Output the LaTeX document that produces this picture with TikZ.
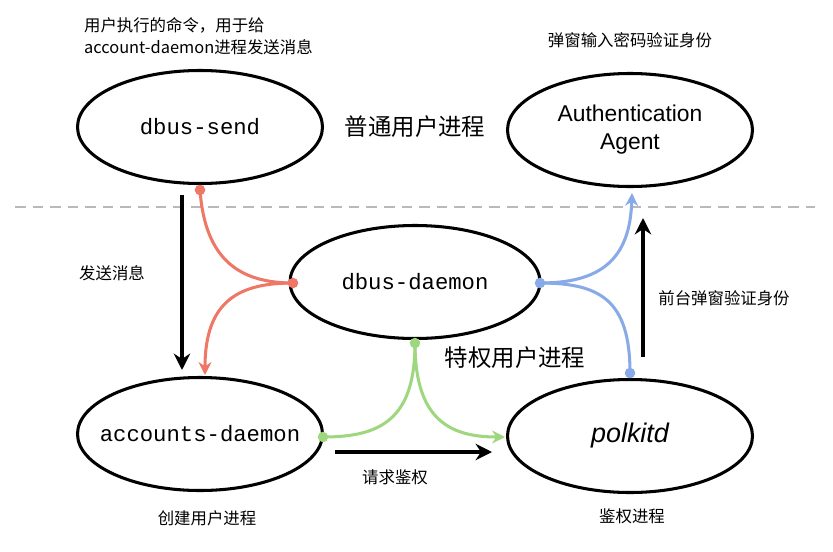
\documentclass[tikz,border=0pt]{standalone}
\usepackage{fontspec}
\newfontfamily\cjk{Noto Sans CJK SC}
\newfontfamily\monof{Liberation Mono}
\newfontfamily\sansf{Liberation Sans}
\usetikzlibrary{shapes.geometric,arrows.meta}
\definecolor{cred}{HTML}{EE7766}
\definecolor{cblue}{HTML}{88AAE6}
\definecolor{cgreen}{HTML}{9ED77E}
\begin{document}
\begin{tikzpicture}[x=0.03cm,y=-0.03cm,
  ell/.style={ellipse,draw,line width=2.6pt,minimum width=245*0.03cm,minimum height=113*0.03cm,inner sep=0pt},
  lbl/.style={font=\cjk\fontsize{14}{17}\selectfont},
  big/.style={font=\cjk\fontsize{20}{24}\selectfont},
  mono/.style={font=\monof\fontsize{19}{22}\selectfont},
  dotr/.style={circle,fill=#1,inner sep=0pt,minimum size=9pt},
  cur/.style={line width=2.6pt,draw=#1},
  blk/.style={line width=3.4pt,-{Stealth[length=14pt,width=14pt]}}]
\useasboundingbox (0,0) rectangle (833,551);
\draw[gray!55,line width=2pt,dash pattern=on 9pt off 6pt] (15,207) -- (815,207);
\node[ell,mono] (send) at (200,127) {dbus-send};
\node[ell] (auth) at (630,130) {\sansf\fontsize{19.5}{24}\selectfont\begin{tabular}{c}Authentication\\Agent\end{tabular}};
\node[ell,mono,minimum width=250*0.03cm] (daemon) at (415,282) {dbus-daemon};
\node[ell,mono,inner xsep=-30pt] (acc) at (200,434) {accounts-daemon};
\node[ell] (pol) at (630,436) {\sansf\itshape\fontsize{23}{26}\selectfont polkitd};
\coordinate (r1) at (200,190); \coordinate (r2) at (293,283); \coordinate (r3) at (205,375);
\coordinate (b1) at (540,283); \coordinate (b2) at (632,193); \coordinate (b3) at (630,373);
\coordinate (g1) at (415,343); \coordinate (g2) at (323,437); \coordinate (g3) at (505,437);
\draw[cur=cred] (r1) .. controls (205,260) and (240,283) .. (r2);
\draw[cur=cred,-{Stealth[length=11pt,width=11pt]}] (r2) .. controls (240,283) and (205,300) .. (r3);
\draw[cur=cblue,-{Stealth[length=11pt,width=11pt]}] (b1) .. controls (600,283) and (630,260) .. (b2);
\draw[cur=cblue] (b3) .. controls (630,300) and (600,283) .. (b1);
\draw[cur=cgreen] (g1) .. controls (415,420) and (380,437) .. (g2);
\draw[cur=cgreen,-{Stealth[length=11pt,width=11pt]}] (g1) .. controls (415,420) and (450,437) .. (g3);
\node[dotr=cred] (dr1) at (r1) {}; \node[dotr=cred] (dr2) at (r2) {};
\node[dotr=cblue] (db1) at (b1) {}; \node[dotr=cblue] (db3) at (b3) {};
\node[dotr=cgreen] (dg1) at (g1) {}; \node[dotr=cgreen] (dg2) at (g2) {};
\coordinate (k1) at (182,195); \coordinate (k2) at (182,370);
\coordinate (k3) at (335,452); \coordinate (k4) at (492,452);
\coordinate (k5) at (643,357); \coordinate (k6) at (643,218);
\draw[blk] (k1) -- (k2);
\draw[blk] (k3) -- (k4);
\draw[blk] (k5) -- (k6);
\node[lbl,anchor=west] (t1) at (80,25) {用户执行的命令，用于给};
\node[lbl,anchor=west] (t2) at (80,47) {account-daemon进程发送消息};
\node[big] (t3) at (415,127) {普通用户进程};
\node[lbl] (t4) at (630,40) {弹窗输入密码验证身份};
\node[lbl] (t5) at (112,273) {发送消息};
\node[lbl] (t6) at (724,298) {前台弹窗验证身份};
\node[big] (t7) at (515,358) {特权用户进程};
\node[lbl] (t8) at (395,477) {请求鉴权};
\node[lbl] (t9) at (207,518) {创建用户进程};
\node[lbl] (t10) at (632,516) {鉴权进程};
\end{tikzpicture}
\end{document}
